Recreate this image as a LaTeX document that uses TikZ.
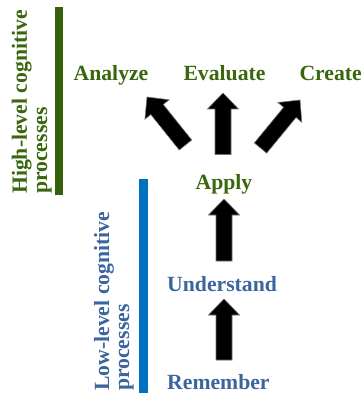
\documentclass[tikz,border=0pt]{standalone}
\usepackage{fontspec}
\setmainfont{Liberation Serif}
\usetikzlibrary{calc}

\definecolor{highgreen}{RGB}{58,102,14}
\definecolor{lowblue}{RGB}{58,101,157}
\definecolor{barblue}{RGB}{0,112,192}
\definecolor{bargreen}{RGB}{54,96,10}

% Block arrow from a tail coordinate to a tip coordinate
\newcommand{\blockarrow}[2]{%
  \coordinate (hb) at ($(#2)!16pt!(#1)$);
  \filldraw[arrowbody]
    ($(#1)!8pt!90:(#2)$) -- ($(hb)!8pt!90:(#2)$) -- ($(hb)!15.5pt!90:(#2)$)
    -- (#2)
    -- ($(hb)!15.5pt!-90:(#2)$) -- ($(hb)!8pt!-90:(#2)$) -- ($(#1)!8pt!-90:(#2)$)
    -- cycle;
}

\begin{document}
\begin{tikzpicture}[x=1pt,y=-1pt,
  every node/.style={inner sep=0pt, font=\bfseries\fontsize{21.7}{20}\selectfont},
  high/.style={text=highgreen},
  low/.style={text=lowblue},
  sidehigh/.style={text=highgreen, rotate=90, anchor=base west},
  sidelow/.style={text=lowblue, rotate=90, anchor=base west},
  arrowbody/.style={fill=black, draw=black!55, line width=0.6pt, line join=miter}]
\useasboundingbox (0,0) rectangle (362,393);

% level bars
\fill[bargreen] (55,7) rectangle (63,195);
\fill[barblue] (139,179) rectangle (148,393);

% side labels
\node[sidehigh] (hl1) at (27,194) {High-level cognitive};
\node[sidehigh] (hl2) at (47,194) {processes};
\node[sidelow] (ll1) at (109,391) {Low-level cognitive};
\node[sidelow] (ll2) at (129,391) {processes};

% process names
\node[high, anchor=base] (analyze) at (111,81) {Analyze};
\node[high, anchor=base] (evaluate) at (224.5,81) {Evaluate};
\node[high, anchor=base east] (create) at (362,81) {Create};
\node[high, anchor=base] (apply) at (224,189.5) {Apply};
\node[low, anchor=base west] (understand) at (167,291) {Understand};
\node[low, anchor=base west] (remember) at (167,389.5) {Remember};

% arrow ends
\coordinate (t1) at (185.5,145);
\coordinate (h1) at (147,97);
\coordinate (t2) at (223,154.5);
\coordinate (h2) at (223,93);
\coordinate (t3) at (260.5,148);
\coordinate (h3) at (300,100);
\coordinate (t4) at (224,261);
\coordinate (h4) at (224,199);
\coordinate (t5) at (224,360);
\coordinate (h5) at (224,299);

\blockarrow{t1}{h1}
\blockarrow{t2}{h2}
\blockarrow{t3}{h3}
\blockarrow{t4}{h4}
\blockarrow{t5}{h5}
\end{tikzpicture}
\end{document}
